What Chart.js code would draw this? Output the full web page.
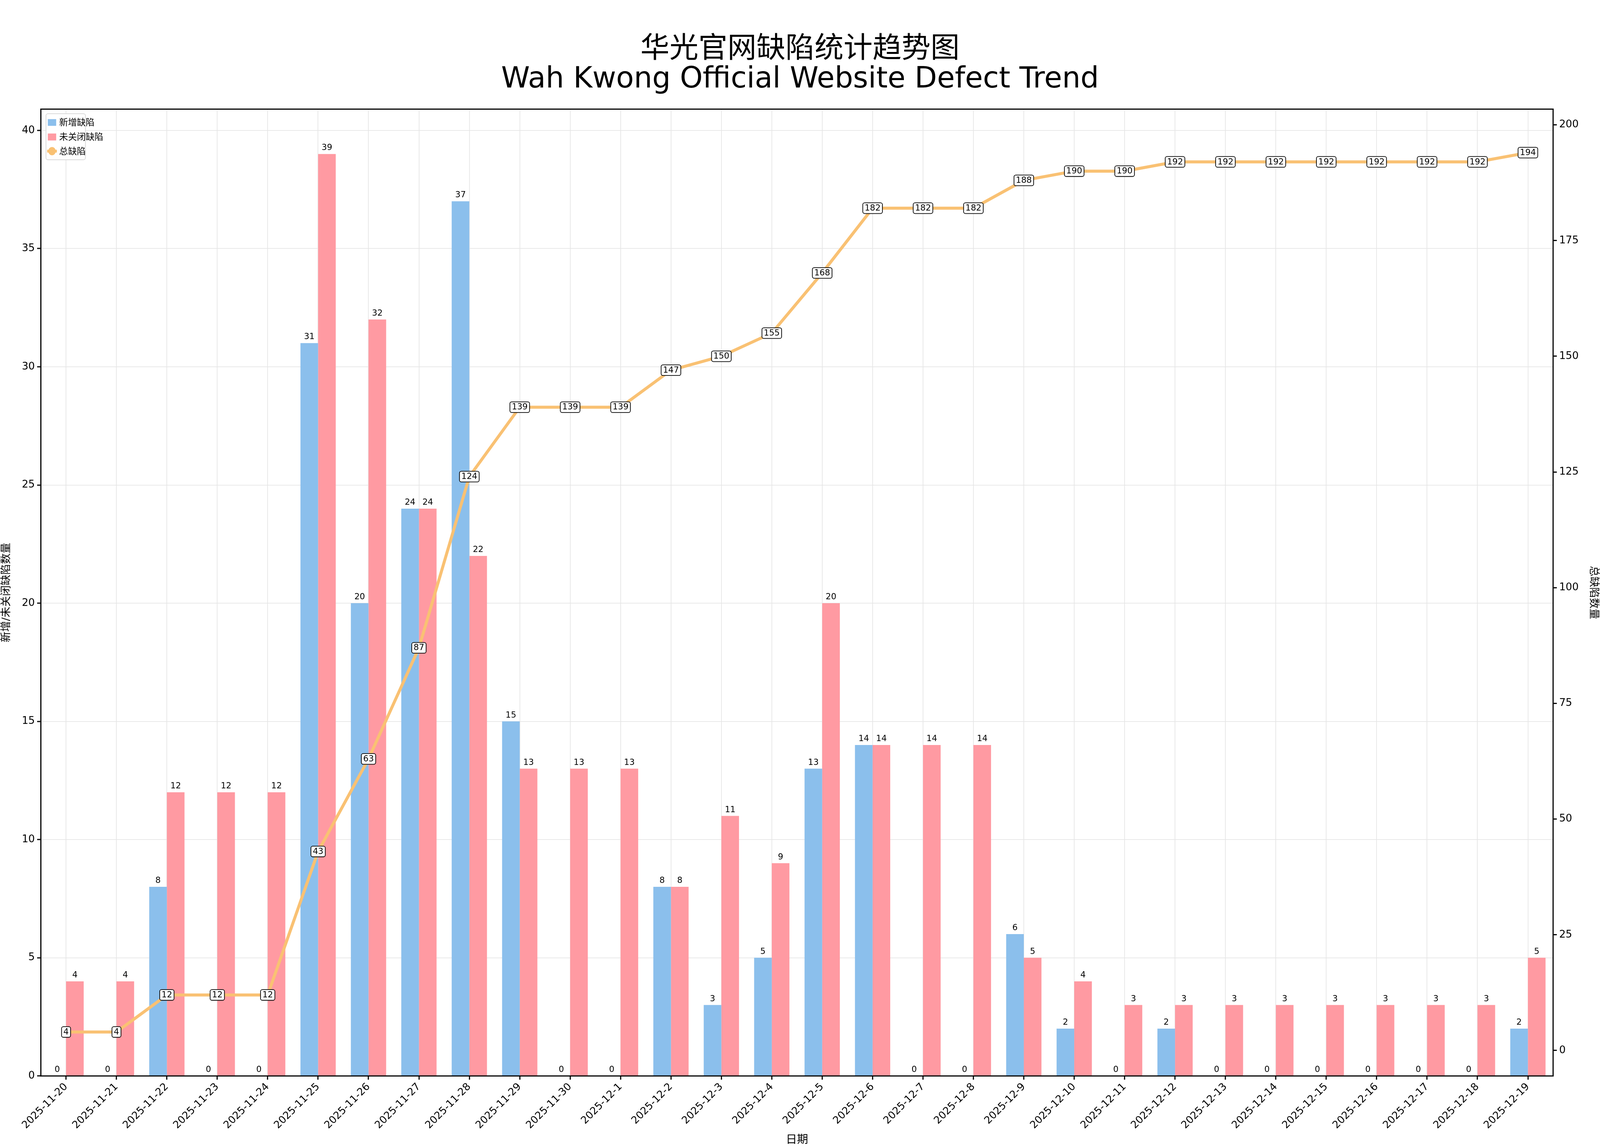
<!DOCTYPE html>
<html>
<head>
<meta charset="utf-8">
<script src="https://cdn.jsdelivr.net/npm/chart.js@4"></script>
<style>
  html, body { margin: 0; padding: 0; background: #fff; overflow: hidden; }
  #wrap { width: 100vw; height: 100vh; }
</style>
</head>
<body>
<div id="wrap"><canvas id="chart"></canvas></div>
<script>
const dates = ['2025-11-20', '2025-11-21', '2025-11-22', '2025-11-23', '2025-11-24', '2025-11-25', '2025-11-26',
    '2025-11-27', '2025-11-28', '2025-11-29', '2025-11-30', '2025-12-1', '2025-12-2', '2025-12-3', '2025-12-4',
    '2025-12-5', '2025-12-6', '2025-12-7', '2025-12-8', '2025-12-9', '2025-12-10', '2025-12-11', '2025-12-12',
    '2025-12-13', '2025-12-14', '2025-12-15', '2025-12-16', '2025-12-17', '2025-12-18', '2025-12-19'];
const newDefects = [0, 0, 8, 0, 0, 31, 20, 24, 37, 15, 0, 0, 8, 3, 5, 13, 14, 0, 0, 6, 2, 0, 2, 0, 0, 0, 0, 0, 0, 2];
const openDefects = [4, 4, 12, 12, 12, 39, 32, 24, 22, 13, 13, 13, 8, 11, 9, 20, 14, 14, 14, 5, 4, 3, 3, 3, 3, 3, 3, 3, 3, 5];
const totalDefects = [4, 4, 12, 12, 12, 43, 63, 87, 124, 139, 139, 139, 147, 150, 155, 168, 182, 182, 182, 188, 190, 190,
    192, 192, 192, 192, 192, 192, 192, 194];
const leftTicks = [0, 5, 10, 15, 20, 25, 30, 35, 40];
const rightTicks = [0, 25, 50, 75, 100, 125, 150, 175, 200];
const seriesNames = ['新增缺陷', '未关闭缺陷', '总缺陷'];

const BLUE = '#8bbfec', RED = '#ff9aa2', ORANGE = '#f9c173';
const FONT = '"DejaVu Sans", "Noto Sans CJK SC", sans-serif';
// everything below is laid out for a 6892px wide page
const K = window.innerWidth / 6892;
const s = v => v * K;

// title, frame, value labels and legend drawn by hand
const decorations = {
    id: 'decorations',
    afterDatasetsDraw(chart) {
        const c = chart.ctx, a = chart.chartArea;
        c.save();
        c.strokeStyle = '#000';
        c.lineWidth = s(5);
        c.strokeRect(a.left, a.top, a.right - a.left, a.bottom - a.top);

        c.fillStyle = '#000';
        c.textAlign = 'center';
        c.font = s(125) + 'px ' + FONT;
        c.textBaseline = 'middle';
        c.fillText('华光官网缺陷统计趋势图', chart.width / 2, s(215));
        c.fillText('Wah Kwong Official Website Defect Trend', chart.width / 2, s(345));

        // bar value labels
        c.font = s(36) + 'px ' + FONT;
        c.textBaseline = 'bottom';
        [0, 1].forEach(di => {
            chart.getDatasetMeta(di).data.forEach((bar, i) => {
                c.fillText(String(chart.data.datasets[di].data[i]), bar.x, bar.y - s(8));
            });
        });

        // boxed labels on the total line
        c.textBaseline = 'middle';
        chart.getDatasetMeta(2).data.forEach((pt, i) => {
            const t = String(totalDefects[i]);
            const w = c.measureText(t).width + s(16), h = s(46);
            c.beginPath();
            c.roundRect(pt.x - w / 2, pt.y - h / 2, w, h, s(8));
            c.fillStyle = '#fff';
            c.fill();
            c.lineWidth = s(3);
            c.strokeStyle = '#000';
            c.stroke();
            c.fillStyle = '#000';
            c.fillText(t, pt.x, pt.y + s(1));
        });

        // legend
        const lx = a.left + s(22), ly = a.top + s(20);
        c.beginPath();
        c.roundRect(lx, ly, s(170), s(198), s(8));
        c.fillStyle = 'rgba(255,255,255,0.85)';
        c.fill();
        c.lineWidth = s(3);
        c.strokeStyle = '#d5d5d5';
        c.stroke();
        c.font = s(38) + 'px ' + FONT;
        c.textAlign = 'left';
        c.fillStyle = BLUE;
        c.fillRect(lx + s(8), ly + s(23), s(36), s(29));
        c.fillStyle = RED;
        c.fillRect(lx + s(8), ly + s(85), s(36), s(30));
        c.strokeStyle = ORANGE;
        c.lineWidth = s(12);
        c.beginPath();
        c.moveTo(lx + s(5), ly + s(161));
        c.lineTo(lx + s(47), ly + s(161));
        c.stroke();
        c.fillStyle = ORANGE;
        c.beginPath();
        c.ellipse(lx + s(26), ly + s(161), s(16), s(18), 0, 0, Math.PI * 2);
        c.fill();
        c.fillStyle = '#000';
        seriesNames.forEach((n, i) => c.fillText(n, lx + s(57), ly + s(40) + i * s(62)));
        c.restore();
    }
};

const gridStyle = { color: '#e6e6e6', lineWidth: s(3), borderDash: [s(16), s(10)],
    tickColor: '#000', tickLength: s(16), tickWidth: s(5), tickBorderDash: [] };
const tickFont = { size: s(44), family: FONT };

new Chart(document.getElementById('chart'), {
    data: {
        labels: dates,
        datasets: [
            { type: 'bar', label: seriesNames[0], data: newDefects, backgroundColor: BLUE, yAxisID: 'y',
              categoryPercentage: 0.7, barPercentage: 1, order: 2 },
            { type: 'bar', label: seriesNames[1], data: openDefects, backgroundColor: RED, yAxisID: 'y',
              categoryPercentage: 0.7, barPercentage: 1, order: 2 },
            { type: 'line', label: seriesNames[2], data: totalDefects, borderColor: ORANGE, backgroundColor: ORANGE,
              borderWidth: s(13), pointRadius: s(20), pointBorderWidth: 0, tension: 0, yAxisID: 'y1', order: 1 }
        ]
    },
    options: {
        responsive: true,
        maintainAspectRatio: false,
        animation: false,
        layout: { padding: { top: s(470), left: 0, right: 0, bottom: 0 } },
        plugins: { legend: { display: false }, tooltip: { enabled: false } },
        scales: {
            x: {
                offset: true,
                afterFit: sc => { sc.height = s(306); },
                ticks: { color: '#000', font: tickFont, maxRotation: 45, minRotation: 45, autoSkip: false },
                grid: Object.assign({ offset: false }, gridStyle),
                border: { display: false },
                title: { display: true, text: '日期', color: '#000', font: { size: s(48), family: FONT }, padding: 0 }
            },
            y: {
                position: 'left',
                min: 0, max: 40.9,
                afterFit: sc => { sc.width = s(176); },
                afterBuildTicks: sc => { sc.ticks = leftTicks.map(v => ({ value: v })); },
                ticks: { color: '#000', font: tickFont, padding: s(10) },
                grid: gridStyle,
                border: { display: false },
                title: { display: true, text: '新增/未关闭缺陷数量', color: '#000', font: { size: s(46), family: FONT }, padding: 0 }
            },
            y1: {
                position: 'right',
                min: -5.5, max: 203.4,
                afterFit: sc => { sc.width = s(202); },
                afterBuildTicks: sc => { sc.ticks = rightTicks.map(v => ({ value: v })); },
                ticks: { color: '#000', font: tickFont, padding: s(10) },
                grid: { drawOnChartArea: false, tickColor: '#000', tickLength: s(16), tickWidth: s(5) },
                border: { display: false },
                title: { display: true, text: '总缺陷数量', color: '#000', font: { size: s(46), family: FONT }, padding: 0 }
            }
        }
    },
    plugins: [decorations]
});
</script>
</body>
</html>
